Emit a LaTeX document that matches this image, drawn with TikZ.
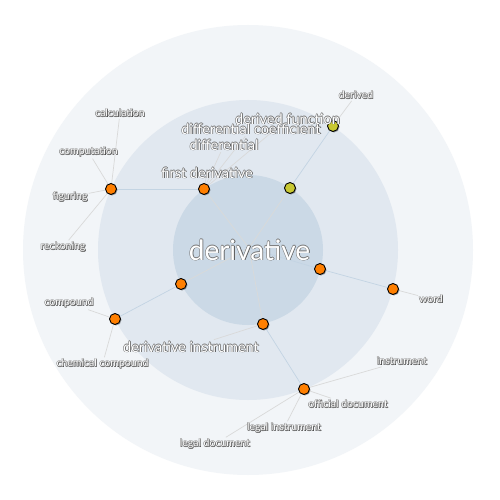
\documentclass[tikz,border=0pt]{standalone}
\usepackage{fontspec}
\setmainfont{Lato}
\usetikzlibrary{shadows}
\definecolor{ringA}{HTML}{F2F5F8}
\definecolor{ringB}{HTML}{E1E8F0}
\definecolor{ringC}{HTML}{CBD9E6}
\definecolor{mline}{HTML}{C3D4E3}
\definecolor{wline}{HTML}{D9D9D9}
\definecolor{dotO}{HTML}{FF7F00}
\definecolor{dotY}{HTML}{C8C832}
\definecolor{shd}{HTML}{404040}
\newcommand\gl[1]{%
\rlap{\kern0.8pt\lower0.9pt\hbox{\color{shd}#1}}%
\rlap{\kern-0.5pt\hbox{\color{shd!70}#1}}%
\rlap{\kern0.5pt\hbox{\color{shd!70}#1}}%
\rlap{\raise0.5pt\hbox{\color{shd!70}#1}}%
\rlap{\lower0.5pt\hbox{\color{shd!70}#1}}%
\hbox{\color{white}#1}}
\pgfdeclarelayer{back}
\pgfdeclarelayer{lines}
\pgfsetlayers{back,lines,main}
\tikzset{
  odot/.style={circle,draw=black,line width=0.9pt,fill=dotO,minimum size=11pt,inner sep=0pt,
    drop shadow={shadow xshift=1pt,shadow yshift=-1pt,opacity=0.35,fill=black}},
  ydot/.style={odot,fill=dotY},
  big/.style={inner sep=1pt,font=\fontsize{28}{30}\selectfont},
  mid/.style={inner sep=1pt,font=\fontsize{14.5}{16}\selectfont},
  sml/.style={inner sep=1pt,font=\fontsize{10.5}{12}\selectfont},
  mln/.style={draw=mline,line width=0.7pt},
  wln/.style={draw=wline,line width=0.7pt}
}
\begin{document}
\begin{tikzpicture}[x=1pt,y=-1pt]
\useasboundingbox (0,0) rectangle (500,500);
\begin{pgfonlayer}{back}
\fill[white] (0,0) rectangle (500,500);
\fill[ringA] (248,250) circle (225);
\fill[ringB] (248,250) circle (150);
\fill[ringC] (248,250) circle (75);
\end{pgfonlayer}
\coordinate (hub) at (249,248);
% dots
\node[odot] (m1) at (204,189) {};
\node[ydot] (m2) at (290,188) {};
\node[ydot] (m3) at (333,126) {};
\node[odot] (m4) at (320,269) {};
\node[odot] (m5) at (393,289) {};
\node[odot] (m6) at (263,324) {};
\node[odot] (m7) at (304,389) {};
\node[odot] (m8) at (181,284) {};
\node[odot] (m9) at (115,319) {};
\node[odot] (m10) at (111,189) {};
% labels
\node[big] (c) at (249.5,250) {\gl{derivative}};
\node[mid] (l1) at (207,173) {\gl{first derivative}};
\node[mid] (l2) at (224,145) {\gl{differential}};
\node[mid] (l3) at (251,129) {\gl{differential coefficient}};
\node[mid] (l4) at (287.5,119) {\gl{derived function}};
\node[sml] (l5) at (356,95) {\gl{derived}};
\node[sml] (l6) at (431,299) {\gl{word}};
\node[mid] (l7) at (191,347) {\gl{derivative instrument}};
\node[sml] (l8) at (402,361) {\gl{instrument}};
\node[sml] (l9) at (348,404) {\gl{official document}};
\node[sml] (l10) at (284,428) {\gl{legal instrument}};
\node[sml] (l11) at (215,444) {\gl{legal document}};
\node[sml] (l12) at (69,303) {\gl{compound}};
\node[sml] (l13) at (102.5,364) {\gl{chemical compound}};
\node[sml] (l14) at (120,113) {\gl{calculation}};
\node[sml] (l15) at (88.5,152) {\gl{computation}};
\node[sml] (l16) at (70,197) {\gl{figuring}};
\node[sml] (l17) at (63,247) {\gl{reckoning}};
\begin{pgfonlayer}{lines}
\path[wln] (hub) -- (m1);
\path[wln] (hub) -- (m2);
\path[mln] (hub) -- (m4);
\path[wln] (hub) -- (m6);
\path[wln] (hub) -- (m8);
\path[mln] (m1) -- (m10);
\path[mln] (m2) -- (m3);
\path[mln] (m4) -- (m5);
\path[mln] (m6) -- (m7);
\path[mln] (m8) -- (m9);
\path[wln] (m1) -- (l1.center);
\path[wln] (m1) -- (l2);
\path[wln] (m1) -- (l3);
\path[wln] (m1) -- (l4);
\path[wln] (m3) -- (l5);
\path[wln] (m5) -- (l6);
\path[wln] (m6) -- (l7);
\path[wln] (m7) -- (l8);
\path[wln] (m7) -- (l9);
\path[wln] (m7) -- (l10);
\path[wln] (m7) -- (l11);
\path[wln] (m9) -- (l12);
\path[wln] (m9) -- (l13);
\path[wln] (m10) -- (l14);
\path[wln] (m10) -- (l15);
\path[wln] (m10) -- (l16);
\path[wln] (m10) -- (l17);
\end{pgfonlayer}
\end{tikzpicture}
\end{document}
